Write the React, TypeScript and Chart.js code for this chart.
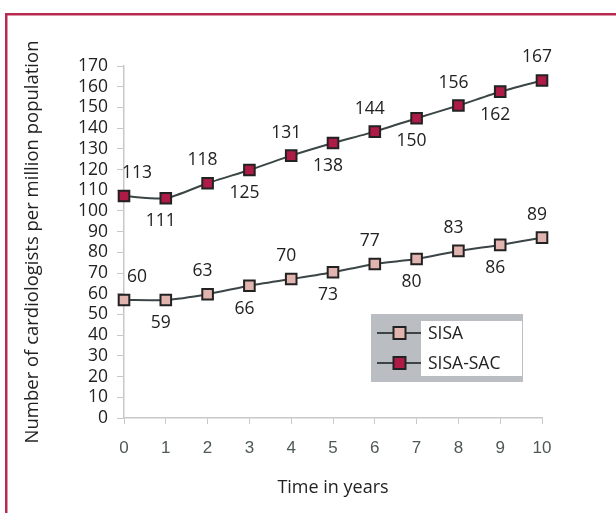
import React, { useEffect, useRef } from "react";
import { Chart, registerables } from "chart.js";

Chart.register(...registerables);

// ---- data ----
const years = [0, 1, 2, 3, 4, 5, 6, 7, 8, 9, 10];
// values as the markers are drawn in the picture
const sisaValues = [57, 57, 59.8, 63.9, 67.1, 70.4, 74.4, 76.8, 80.7, 83.6, 87.1];
const sisaSacValues = [107.2, 106.1, 113.4, 119.8, 126.7, 132.8, 138.3, 144.8, 150.9, 157.6, 163];
// values as printed next to the markers
const sisaLabels = ["60", "59", "63", "66", "70", "73", "77", "80", "83", "86", "89"];
const sisaSacLabels = ["113", "111", "118", "125", "131", "138", "144", "150", "156", "162", "167"];
const seriesNames = ["SISA", "SISA-SAC"];
const yTitle = "Number of cardiologists per million population";
const xTitle = "Time in years";

const FONT = "'Open Sans', 'Noto Sans', sans-serif";
const LINE = "#3b4546";
const SISA_FILL = "#e2b4b0";
const SAC_FILL = "#ae1b46";
const FRAME = "#b92a50";

const frameAndLabels = {
  id: "frameAndLabels",
  beforeDraw(chart: any) {
    const ctx = chart.ctx;
    ctx.save();
    ctx.fillStyle = "#ffffff";
    ctx.fillRect(0, 0, chart.width, chart.height);
    ctx.fillStyle = FRAME;
    ctx.fillRect(5, 13, chart.width - 5, 2.5);
    ctx.fillRect(5, 13, 2.5, chart.height - 13);
    ctx.restore();
  },
  afterDatasetsDraw(chart: any) {
    const ctx = chart.ctx;
    const allLabels = [sisaLabels, sisaSacLabels];
    ctx.save();
    ctx.font = `17.5px ${FONT}`;
    ctx.fillStyle = "#222222";
    ctx.textAlign = "center";
    ctx.textBaseline = "middle";
    allLabels.forEach((labels, di) => {
      const meta = chart.getDatasetMeta(di);
      meta.data.forEach((pt: any, j: number) => {
        const above = j % 2 === 0;
        const dx = j === 0 ? 13 : -5;
        const dy = above ? -23 : 23;
        ctx.fillText(labels[j], pt.x + dx, pt.y + dy);
      });
    });
    ctx.restore();

    // legend
    const lx = 371, ly = 314, lw = 152, lh = 68;
    ctx.save();
    ctx.fillStyle = "#babdc1";
    ctx.fillRect(lx, ly, lw, lh);
    ctx.fillStyle = "#ffffff";
    ctx.fillRect(421, 321, 101, 55);
    const items = [
      { name: seriesNames[0], fill: SISA_FILL, y: 333 },
      { name: seriesNames[1], fill: SAC_FILL, y: 363 },
    ];
    items.forEach((it) => {
      ctx.strokeStyle = LINE;
      ctx.lineWidth = 2;
      ctx.beginPath();
      ctx.moveTo(377, it.y);
      ctx.lineTo(421, it.y);
      ctx.stroke();
      ctx.fillStyle = it.fill;
      ctx.fillRect(393.5, it.y - 6, 12, 12);
      ctx.strokeStyle = "#222222";
      ctx.lineWidth = 2;
      ctx.strokeRect(393.5, it.y - 6, 12, 12);
      ctx.fillStyle = "#222222";
      ctx.font = `17.5px ${FONT}`;
      ctx.textAlign = "left";
      ctx.textBaseline = "middle";
      ctx.fillText(it.name, 428, it.y + 1);
    });
    ctx.restore();
  },
};

export default function App() {
  const ref = useRef<HTMLCanvasElement | null>(null);
  useEffect(() => {
    if (!ref.current) return;
    const chart = new Chart(ref.current, {
      type: "line",
      data: {
        labels: years,
        datasets: [
          {
            label: seriesNames[0],
            data: years.map((x, i) => ({ x, y: sisaValues[i] })),
            borderColor: LINE,
            borderWidth: 2,
            backgroundColor: SISA_FILL,
            pointStyle: "rect",
            pointRadius: 7.5,
            pointBorderColor: "#222222",
            pointBorderWidth: 2,
            pointBackgroundColor: SISA_FILL,
            tension: 0.2,
            clip: false as any,
          },
          {
            label: seriesNames[1],
            data: years.map((x, i) => ({ x, y: sisaSacValues[i] })),
            borderColor: LINE,
            borderWidth: 2,
            backgroundColor: SAC_FILL,
            pointStyle: "rect",
            pointRadius: 7.5,
            pointBorderColor: "#222222",
            pointBorderWidth: 2,
            pointBackgroundColor: SAC_FILL,
            tension: 0.2,
            clip: false as any,
          },
        ],
      },
      options: {
        animation: false,
        responsive: false,
        maintainAspectRatio: false,
        layout: { padding: { left: 0, top: 66, right: 74, bottom: 0 } },
        plugins: {
          legend: { display: false },
          tooltip: { enabled: false },
        },
        scales: {
          x: {
            type: "linear",
            min: 0,
            max: 10,
            ticks: {
              stepSize: 1,
              autoSkip: false,
              color: "#4f5858",
              font: { family: "'Liberation Sans', Arial, sans-serif", size: 17 },
              padding: 14,
            },
            grid: {
              display: true,
              drawOnChartArea: false,
              color: "#c8c8c8",
              tickLength: 6,
            },
            border: { color: "#c8c8c8", width: 1.5 },
            title: {
              display: true,
              text: xTitle,
              color: "#222222",
              font: { family: FONT, size: 18 },
              padding: { top: 4, bottom: 14 },
            },
            afterFit(scale: any) {
              scale.height = 95;
            },
          },
          y: {
            type: "linear",
            min: 0,
            max: 170,
            ticks: {
              stepSize: 10,
              autoSkip: false,
              color: "#222222",
              font: { family: FONT, size: 17.5 },
              padding: 9,
            },
            grid: {
              display: true,
              drawOnChartArea: false,
              color: "#c8c8c8",
              tickLength: 7,
            },
            border: { color: "#c8c8c8", width: 1.5 },
            title: {
              display: true,
              text: yTitle,
              color: "#222222",
              font: { family: FONT, size: 18.5 },
              padding: { top: 22, bottom: 0 },
            },
            afterFit(scale: any) {
              scale.width = 124;
            },
          },
        },
      },
      plugins: [frameAndLabels],
    });
    return () => chart.destroy();
  }, []);
  return (
    <div style={{ position: "fixed", left: 0, top: 0, width: 616, height: 513 }}>
      <canvas ref={ref} width={616} height={513} style={{ width: 616, height: 513, display: "block" }} />
    </div>
  );
}
